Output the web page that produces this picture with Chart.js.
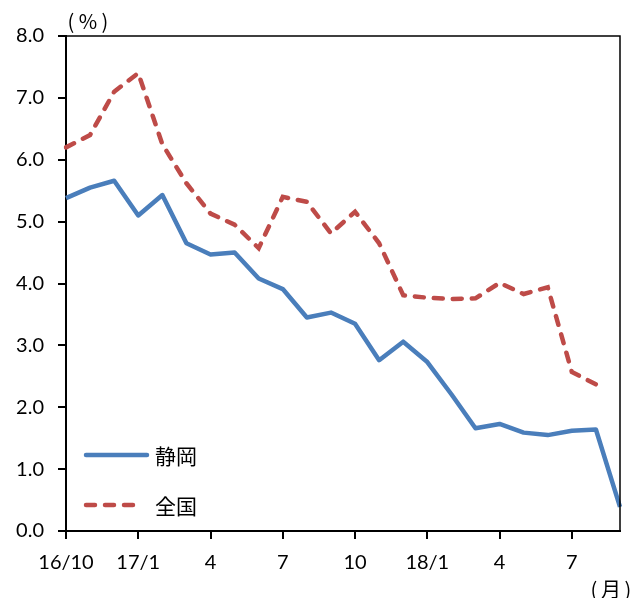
<!DOCTYPE html>
<html>
<head>
<meta charset="utf-8">
<script src="https://cdn.jsdelivr.net/npm/chart.js@4"></script>
<style>
  html, body { margin: 0; padding: 0; background: #fff; }
  #wrap { width: 632px; height: 598px; position: relative; }
</style>
</head>
<body>
<div id="wrap"><canvas id="grafico"></canvas></div>
<script>
// meses: 16/10 ... 18/9
const meses = ['16/10', '11', '12', '17/1', '2', '3', '4', '5', '6', '7', '8', '9',
  '10', '11', '12', '18/1', '2', '3', '4', '5', '6', '7', '8', '9'];

const shizuoka = [5.38, 5.55, 5.66, 5.10, 5.43, 4.65, 4.47, 4.50, 4.08, 3.91, 3.45, 3.53,
  3.35, 2.76, 3.06, 2.73, 2.21, 1.66, 1.73, 1.59, 1.55, 1.62, 1.64, 0.39];

const zenkoku = [6.20, 6.40, 7.10, 7.40, 6.25, 5.62, 5.13, 4.95, 4.57, 5.40, 5.32, 4.81,
  5.16, 4.65, 3.81, 3.77, 3.75, 3.76, 4.01, 3.83, 3.94, 2.57, 2.37, null];

const fonteNum = "Lato, 'Noto Sans', sans-serif";
const fonteJP = "'Noto Sans CJK JP', sans-serif";

// texto entre parênteses largos, desenhado por partes
function textoParenteses(ctx, meio, cx, cy) {
  ctx.font = '20px ' + fonteJP;
  ctx.textAlign = 'center';
  ctx.textBaseline = 'middle';
  ctx.fillText('(', cx - 17, cy);
  ctx.fillText(meio, cx, cy);
  ctx.fillText(')', cx + 17, cy);
}

// moldura + textos + legenda dentro do gráfico
const extras = {
  id: 'extras',
  afterDraw(chart) {
    const { ctx, chartArea } = chart;
    ctx.save();
    ctx.strokeStyle = '#000';
    ctx.lineWidth = 1.5;
    ctx.beginPath();
    ctx.moveTo(chartArea.left, chartArea.top);
    ctx.lineTo(chartArea.right, chartArea.top);
    ctx.lineTo(chartArea.right, chartArea.bottom);
    ctx.stroke();

    ctx.fillStyle = '#000';
    textoParenteses(ctx, '%', 88, 21);
    textoParenteses(ctx, '月', 611, 589);

    // legenda
    const itens = chart.data.datasets;
    const ys = [455, 505];
    ctx.textAlign = 'left';
    itens.forEach((ds, i) => {
      ctx.strokeStyle = ds.borderColor;
      ctx.lineWidth = ds.borderWidth;
      ctx.lineCap = 'round';
      ctx.setLineDash(ds.borderDash || []);
      ctx.beginPath();
      ctx.moveTo(86, ys[i]);
      ctx.lineTo(i === 0 ? 147 : 140, ys[i]);
      ctx.stroke();
      ctx.setLineDash([]);
      ctx.fillStyle = '#000';
      ctx.font = '21px ' + fonteJP;
      ctx.fillText(ds.label, 155, ys[i] + 1);
    });
    ctx.restore();
  }
};

const ctxG = document.getElementById('grafico').getContext('2d');
const meuGrafico = new Chart(ctxG, {
  type: 'line',
  data: {
    labels: meses,
    datasets: [
      {
        label: '静岡',
        data: shizuoka,
        borderColor: '#4A7EBB',
        backgroundColor: '#4A7EBB',
        borderWidth: 4.5,
        pointRadius: 0,
        tension: 0,
        borderJoinStyle: 'round'
      },
      {
        label: '全国',
        data: zenkoku,
        borderColor: '#BE4B48',
        backgroundColor: '#BE4B48',
        borderWidth: 4.5,
        borderDash: [9, 10],
        borderCapStyle: 'round',
        pointRadius: 0,
        tension: 0,
        spanGaps: false
      }
    ]
  },
  options: {
    responsive: true,
    maintainAspectRatio: false,
    animation: false,
    layout: { padding: { top: 36, right: 12, left: 0, bottom: 0 } },
    plugins: {
      legend: { display: false },
      tooltip: { enabled: false }
    },
    scales: {
      x: {
        type: 'category',
        offset: false,
        afterFit: function (scale) { scale.height = 67; },
        border: { color: '#000', width: 2 },
        grid: {
          drawOnChartArea: false,
          drawTicks: true,
          tickLength: 8,
          lineWidth: 2,
          color: function (c) { return (c.index % 3 === 0) ? '#000' : 'rgba(0,0,0,0)'; }
        },
        ticks: {
          autoSkip: false,
          maxRotation: 0,
          padding: 12,
          color: '#000',
          font: { family: fonteNum, size: 20 },
          callback: function (v, i) { return (i % 3 === 0) ? meses[i] : ''; }
        }
      },
      y: {
        min: 0,
        max: 8,
        afterFit: function (scale) { scale.width = 66; },
        border: { color: '#000', width: 2 },
        grid: {
          drawOnChartArea: false,
          drawTicks: true,
          tickLength: 8,
          lineWidth: 2,
          color: '#000'
        },
        ticks: {
          stepSize: 1,
          padding: 14,
          color: '#000',
          font: { family: fonteNum, size: 20 },
          callback: function (v) { return v.toFixed(1); }
        }
      }
    }
  },
  plugins: [extras]
});
</script>
</body>
</html>
